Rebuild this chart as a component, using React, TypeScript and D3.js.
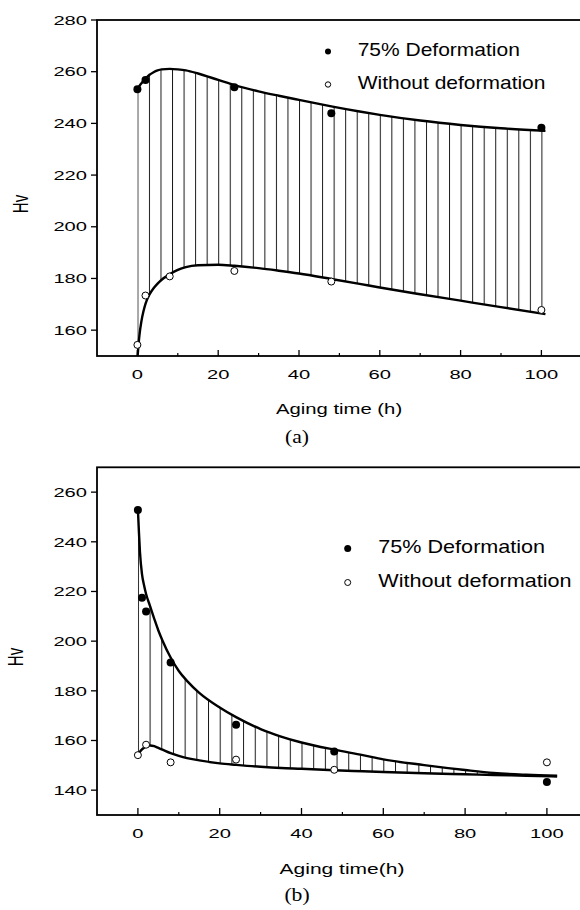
import React from "react";
import * as d3 from "d3";

// ---------- data ----------
// Panel (a): fitted curves sampled on a shared time grid
const timeA = [0, 0.5, 1, 1.5, 2, 3, 4, 5, 6, 8, 10, 12, 15, 20, 24, 30, 35, 40, 48, 55, 60, 70, 80, 90, 101];
const upperA = [253.5, 254.5, 255.5, 256.5, 257.3, 258.8, 259.8, 260.5, 260.9, 261.1, 260.9, 260.5, 259.3, 256.8, 254.8, 252.4, 250.7, 249.1, 246.6, 244.6, 243.3, 241.1, 239.4, 238.1, 237.1];
const lowerA = [149, 158, 163.5, 167.3, 170.2, 173.8, 176.2, 178, 179.5, 181.6, 183.3, 184.4, 185.1, 185.3, 184.9, 184, 183, 181.9, 179.8, 177.9, 176.5, 173.9, 171.4, 168.9, 166.2];
const defTimeA = [0, 2, 24, 48, 100];
const defHvA = [253.2, 256.8, 254, 243.9, 238.3];
const noDefTimeA = [0, 2, 8, 24, 48, 100];
const noDefHvA = [154.3, 173.4, 180.8, 182.9, 178.8, 167.8];

// Panel (b)
const timeB = [0, 0.25, 0.5, 1, 1.5, 2, 3, 4, 5, 6, 8, 10, 12, 15, 20, 24, 30, 35, 40, 48, 55, 60, 70, 80, 87, 95, 102.5];
const upperB = [253, 244, 236, 227, 222.5, 219, 214, 209, 204.3, 200.3, 193.4, 188, 184, 179.2, 173.3, 169.4, 164.6, 161.6, 159.2, 156.3, 154.1, 152.4, 150.1, 148.1, 146.9, 146.2, 145.8];
const lowerB = [154.3, 154.9, 155.5, 156.4, 157.1, 157.6, 158, 157.7, 157, 156.3, 154.9, 153.8, 152.9, 152, 150.8, 150.2, 149.4, 148.9, 148.6, 148, 147.6, 147.3, 146.8, 146.4, 146.1, 145.8, 145.5];
const defTimeB = [0, 1, 2, 8, 24, 48, 100];
const defHvB = [252.8, 217.5, 211.9, 191.4, 166.3, 155.6, 143.3];
const noDefTimeB = [0, 2, 8, 24, 48, 100];
const noDefHvB = [154.1, 158.3, 151.2, 152.3, 148.2, 151.2];

const xMajorTicks = [0, 20, 40, 60, 80, 100];
const xMinorTicks = [10, 30, 50, 70, 90];
const yTicksA = [160, 180, 200, 220, 240, 260, 280];
const yTicksB = [140, 160, 180, 200, 220, 240, 260];
const legendLabels = ["75% Deformation", "Without deformation"];
const hatchIntervals = 35; // hatch lines over 0..100 h

const SANS = "'Liberation Sans', Arial, Helvetica, sans-serif";
const SERIF = "'Liberation Serif', 'Times New Roman', serif";

type TxtProps = {
  x: number; y: number; sx?: number; sy?: number; rotate?: number;
  anchor?: "start" | "middle" | "end"; size: number; family?: string; children: React.ReactNode;
};
function Txt({ x, y, sx = 1, sy = 1, rotate = 0, anchor = "start", size, family = SANS, children }: TxtProps) {
  return (
    <text
      transform={`translate(${x},${y}) rotate(${rotate}) scale(${sx},${sy})`}
      textAnchor={anchor}
      fontSize={size}
      fontFamily={family}
      fill="#000"
    >
      {children}
    </text>
  );
}

type PanelProps = {
  id: string;
  xDomain: [number, number]; xRange: [number, number];
  yDomain: [number, number]; yRange: [number, number];
  time: number[]; upper: number[]; lower: number[];
  defT: number[]; defV: number[]; noT: number[]; noV: number[];
  yTicks: number[];
  majorLen: number;
  xLabel: string; xLabelPos: [number, number]; xLabelSx: number;
  xTickBaseline: number;
  hvPos: [number, number];
  legend: { dotX: number; y1: number; y2: number; textX: number; size: number; sx: number; rf: number; ro: number };
  caption: string; captionPos: [number, number];
};

function Panel(p: PanelProps) {
  const x = d3.scaleLinear().domain(p.xDomain).range(p.xRange);
  const y = d3.scaleLinear().domain(p.yDomain).range(p.yRange);
  const pts = p.time.map((t, i) => ({ t, hi: p.upper[i], lo: p.lower[i] }));
  const area = d3.area<{ t: number; hi: number; lo: number }>()
    .x(d => x(d.t)).y0(d => y(d.lo)).y1(d => y(d.hi)).curve(d3.curveMonotoneX);
  const lineHi = d3.line<{ t: number; hi: number; lo: number }>()
    .x(d => x(d.t)).y(d => y(d.hi)).curve(d3.curveMonotoneX);
  const lineLo = d3.line<{ t: number; hi: number; lo: number }>()
    .x(d => x(d.t)).y(d => y(d.lo)).curve(d3.curveMonotoneX);
  const left = p.xRange[0], right = p.xRange[1];
  const top = p.yRange[1], bottom = p.yRange[0];
  const step = x(100 / hatchIntervals) - x(0);

  return (
    <g>
      <defs>
        <clipPath id={`clip-${p.id}`}>
          <rect x={left} y={top} width={right - left} height={bottom - top} />
        </clipPath>
        <pattern id={`hatch-${p.id}`} patternUnits="userSpaceOnUse" x={x(0)} y={0} width={step} height={20}>
          <rect x={0} y={0} width={1} height={20} fill="#1a1a1a" />
        </pattern>
      </defs>
      <g clipPath={`url(#clip-${p.id})`}>
        <path d={area(pts) || ""} fill={`url(#hatch-${p.id})`} />
        <path d={lineHi(pts) || ""} fill="none" stroke="#000" strokeWidth={2.4} />
        <path d={lineLo(pts) || ""} fill="none" stroke="#000" strokeWidth={2.4} />
      </g>
      {/* frame */}
      <rect x={left} y={top} width={right - left} height={bottom - top} fill="none" stroke="#000" strokeWidth={1.8} />
      {/* x ticks (inward) */}
      {xMajorTicks.map(t => (
        <line key={`xM${t}`} x1={x(t)} x2={x(t)} y1={bottom} y2={bottom - p.majorLen} stroke="#000" strokeWidth={1.3} />
      ))}
      {xMinorTicks.map(t => (
        <line key={`xm${t}`} x1={x(t)} x2={x(t)} y1={bottom} y2={bottom - 3} stroke="#000" strokeWidth={1.2} />
      ))}
      {xMajorTicks.map(t => (
        <Txt key={`xl${t}`} x={x(t)} y={p.xTickBaseline} anchor="middle" size={13} sx={1.55}>{t}</Txt>
      ))}
      {/* y ticks (outward) */}
      {p.yTicks.map(v => (
        <line key={`yt${v}`} x1={left} x2={left - 6} y1={y(v)} y2={y(v)} stroke="#000" strokeWidth={1.3} />
      ))}
      {p.yTicks.map(v => (
        <Txt key={`yl${v}`} x={87} y={y(v) + 4.7} anchor="end" size={13} sx={1.55}>{v}</Txt>
      ))}
      {/* axis titles */}
      <Txt x={p.xLabelPos[0]} y={p.xLabelPos[1]} anchor="middle" size={14} sx={p.xLabelSx}>{p.xLabel}</Txt>
      <Txt x={p.hvPos[0]} y={p.hvPos[1]} anchor="middle" size={15} rotate={-90} sy={1.45}>Hv</Txt>
      {/* data points */}
      {p.defT.map((t, i) => (
        <circle key={`d${i}`} cx={x(t)} cy={y(p.defV[i])} r={4} fill="#000" />
      ))}
      {p.noT.map((t, i) => (
        <circle key={`n${i}`} cx={x(t)} cy={y(p.noV[i])} r={3.5} fill="#fff" stroke="#000" strokeWidth={1} />
      ))}
      {/* legend */}
      <circle cx={p.legend.dotX} cy={p.legend.y1 - 4.5} r={p.legend.rf} fill="#000" />
      <circle cx={p.legend.dotX} cy={p.legend.y2 - 4.5} r={p.legend.ro} fill="#fff" stroke="#000" strokeWidth={1} />
      <Txt x={p.legend.textX} y={p.legend.y1} size={p.legend.size} sx={p.legend.sx}>{legendLabels[0]}</Txt>
      <Txt x={p.legend.textX} y={p.legend.y2} size={p.legend.size} sx={p.legend.sx}>{legendLabels[1]}</Txt>
      {/* caption */}
      <Txt x={p.captionPos[0]} y={p.captionPos[1]} anchor="middle" size={18} sx={1.2} family={SERIF}>{p.caption}</Txt>
    </g>
  );
}

export default function App() {
  return (
    <svg
      width={580}
      height={910}
      viewBox="0 0 580 910"
      style={{ position: "absolute", left: 0, top: 0, background: "#fff" }}
    >
      <rect x={0} y={0} width={580} height={910} fill="#fff" />
      <Panel
        id="a"
        xDomain={[-10, 110]} xRange={[97, 97 + 120 * 4.04]}
        yDomain={[150, 280]} yRange={[356, 20]}
        time={timeA} upper={upperA} lower={lowerA}
        defT={defTimeA} defV={defHvA} noT={noDefTimeA} noV={noDefHvA}
        yTicks={yTicksA}
        majorLen={6}
        xLabel="Aging time (h)" xLabelPos={[339, 414]} xLabelSx={1.45}
        xTickBaseline={379}
        hvPos={[28, 204]}
        legend={{ dotX: 328, y1: 56, y2: 89, textX: 357.7, size: 17.5, sx: 1.2, rf: 3, ro: 2.7 }}
        caption="(a)" captionPos={[297, 443]}
      />
      <Panel
        id="b"
        xDomain={[-10, 110]} xRange={[97, 97 + 120 * 4.09]}
        yDomain={[130, 270]} yRange={[815, 467.3]}
        time={timeB} upper={upperB} lower={lowerB}
        defT={defTimeB} defV={defHvB} noT={noDefTimeB} noV={noDefHvB}
        yTicks={yTicksB}
        majorLen={7}
        xLabel="Aging time(h)" xLabelPos={[342, 874]} xLabelSx={1.5}
        xTickBaseline={838}
        hvPos={[23, 657]}
        legend={{ dotX: 347.7, y1: 553, y2: 587, textX: 378.3, size: 18, sx: 1.2, rf: 3.5, ro: 3 }}
        caption="(b)" captionPos={[297, 901]}
      />
    </svg>
  );
}
